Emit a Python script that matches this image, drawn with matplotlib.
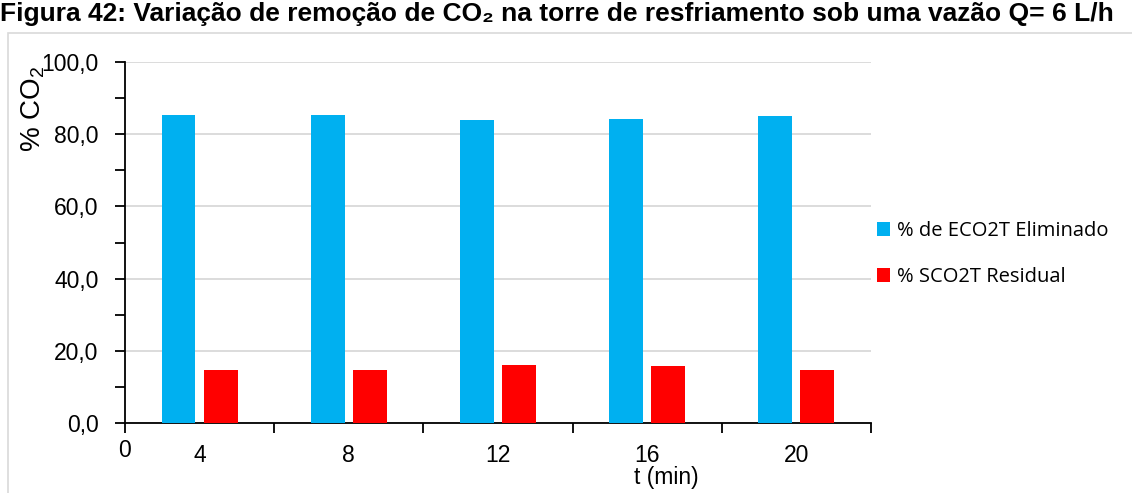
import numpy as np
import matplotlib
matplotlib.use("Agg")
import matplotlib.pyplot as plt
from matplotlib.patches import Rectangle

# Data
tempos = ["4", "8", "12", "16", "20"]
eliminado = [85.3, 85.3, 83.9, 84.2, 85.2]
residual = [14.7, 14.7, 16.1, 15.8, 14.8]

plt.rcParams["font.family"] = ["Liberation Sans", "DejaVu Sans"]
plt.rcParams["mathtext.default"] = "regular"

fig = plt.figure(figsize=(11.32, 4.93), dpi=100)
ax = fig.add_axes([0.1104, 0.142, 0.659, 0.732])

# Outer frame around the chart area
fig.patches.append(Rectangle((0.007, -0.01), 0.995, 0.943, transform=fig.transFigure,
                             fill=False, edgecolor="#d9d9d9", linewidth=1.2))

x = np.arange(len(tempos)) + 0.5
w = 0.227
ax.bar(x - 0.141, eliminado, w, color="#00b0f0", label="% de ECO2T Eliminado", zorder=3)
ax.bar(x + 0.141, residual, w, color="#ff0000", label="% SCO2T Residual", zorder=3)

ax.set_xlim(0, len(tempos))
ax.set_ylim(0, 100)

# y axis
ax.set_yticks(np.arange(0, 101, 20))
ax.set_yticklabels([f"{v:.1f}".replace(".", ",") for v in range(0, 101, 20)], fontsize=16.5)
ax.set_yticks(np.arange(10, 100, 20), minor=True)
ax.tick_params(axis="y", which="both", direction="out", length=7, width=1.3, pad=12)
ax.yaxis.grid(True, color="#d9d9d9", linewidth=1.3, zorder=0)

# x axis: ticks on category boundaries, labels at centers
ax.set_xticks(np.arange(0, len(tempos) + 1))
ax.set_xticklabels([])
ax.tick_params(axis="x", direction="out", length=7, width=1.3)
for xi, lab in zip(x, tempos):
    ax.text(xi, -9, lab, ha="center", va="center", fontsize=16.5,
            transform=ax.transData, clip_on=False)
ax.text(0, -7.6, "0", ha="center", va="center", fontsize=16.5, clip_on=False)
ax.text(3.63, -15, "t (min)", ha="center", va="center", fontsize=16.5, clip_on=False)

for s in ["top", "right"]:
    ax.spines[s].set_visible(False)
for s in ["left", "bottom"]:
    ax.spines[s].set_linewidth(1.3)

ax.set_ylabel("% CO$_2$", fontsize=20)
ax.yaxis.set_label_coords(-0.104, 0.87)

ax.legend(loc="center left", bbox_to_anchor=(1.0, 0.468), frameon=False,
          prop={"family": "Open Sans", "size": 14.5}, handlelength=0.65,
          handleheight=0.65, handletextpad=0.35, labelspacing=1.3,
          borderaxespad=0, borderpad=0.3)

fig.text(0.0, 0.958, "Figura 42: Variação de remoção de CO₂ na torre de resfriamento sob uma vazão Q= 6 L/h",
         fontsize=19, fontweight="bold", ha="left", va="baseline")

fig.savefig("out.png", dpi=100)
